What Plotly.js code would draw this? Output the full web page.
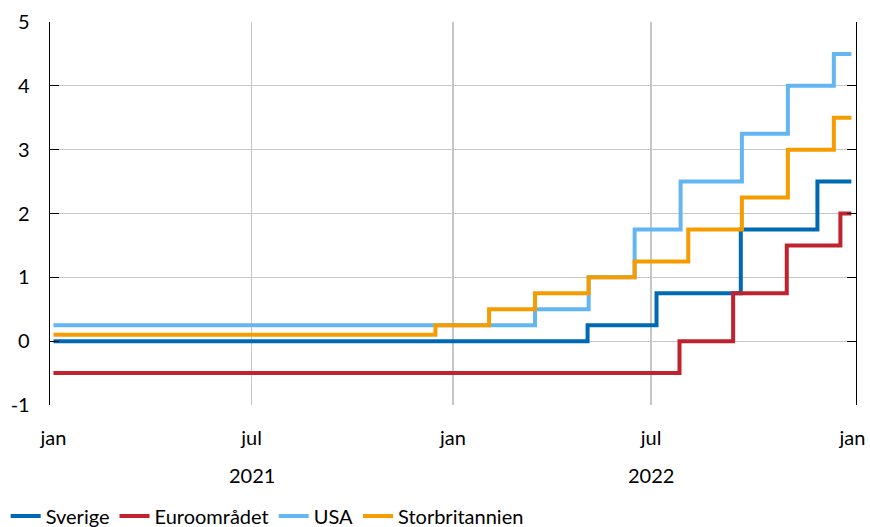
<!DOCTYPE html>
<html>
<head>
<meta charset="utf-8">
<script src="https://cdn.plot.ly/plotly-3.0.1.min.js"></script>
<style>
  html, body { margin: 0; padding: 0; background: #fff; }
  #chart { width: 870px; height: 527px; }
</style>
</head>
<body>
<div id="chart"></div>
<script>
// Policy rates, step changes (date of change -> new level), last point = end of data
const seDates = ['2021-01-01', '2022-05-04', '2022-07-06', '2022-09-21', '2022-11-30', '2022-12-31'];
const seRates = [0, 0.25, 0.75, 1.75, 2.5, 2.5];

const euDates = ['2021-01-01', '2022-07-27', '2022-09-14', '2022-11-02', '2022-12-21', '2022-12-31'];
const euRates = [-0.5, 0, 0.75, 1.5, 2.0, 2.0];

const usDates = ['2021-01-01', '2022-03-17', '2022-05-05', '2022-06-16', '2022-07-28', '2022-09-22', '2022-11-03', '2022-12-15', '2022-12-31'];
const usRates = [0.25, 0.5, 1.0, 1.75, 2.5, 3.25, 4.0, 4.5, 4.5];

const ukDates = ['2021-01-01', '2021-12-16', '2022-02-03', '2022-03-17', '2022-05-05', '2022-06-16', '2022-08-04', '2022-09-22', '2022-11-03', '2022-12-15', '2022-12-31'];
const ukRates = [0.1, 0.25, 0.5, 0.75, 1.0, 1.25, 1.75, 2.25, 3.0, 3.5, 3.5];

const seriesNames = ['Sverige', 'Euroområdet', 'USA', 'Storbritannien'];
const seriesColors = ['#0069b4', '#c0222e', '#63b6f1', '#f59c00'];

// tick labels
const gridTicks = ['2021-07-01', '2022-01-01', '2022-07-01'];
const gridTickText = ['jul', 'jan', 'jul'];
const edgeTicks = ['2021-01-01', '2023-01-01'];
const edgeTickText = ['jan', 'jan'];
const yearLabels = ['2021', '2022'];
const yearPos = ['2021-07-01', '2022-07-01'];
const yTicks = [-1, 0, 1, 2, 3, 4, 5];
const yTickText = ['-1', '0', '1', '2', '3', '4', '5'];

const FONT = 'Lato, "Open Sans", sans-serif';
const FS = 20;

const xs = [seDates, euDates, usDates, ukDates];
const ys = [seRates, euRates, usRates, ukRates];

const traces = seriesNames.map((name, i) => ({
  x: xs[i],
  y: ys[i],
  name: name,
  type: 'scatter',
  mode: 'lines',
  line: { shape: 'hv', width: 4, color: seriesColors[i] },
  hoverinfo: 'skip'
}));

// invisible trace to carry the edge "jan" ticks on the overlaid axis
traces.push({
  x: edgeTicks, y: [null, null], xaxis: 'x2', type: 'scatter', mode: 'lines',
  showlegend: false, hoverinfo: 'skip'
});

const xRange = ['2020-12-28 20:00', '2023-01-04 06:00'];

const layout = {
  width: 870,
  height: 527,
  paper_bgcolor: '#ffffff',
  plot_bgcolor: '#ffffff',
  font: { family: FONT, size: FS, color: '#000000' },
  margin: { l: 50, r: 14, t: 22, b: 122, pad: 0, autoexpand: false },
  showlegend: true,
  legend: {
    orientation: 'h',
    x: -0.055, xanchor: 'left',
    y: -0.239, yanchor: 'top',
    font: { family: FONT, size: FS, color: '#000' },
    itemwidth: 30,
    tracegroupgap: 0
  },
  xaxis: {
    type: 'date',
    range: xRange,
    tickmode: 'array',
    tickvals: gridTicks,
    ticktext: gridTickText,
    showgrid: true,
    gridcolor: '#c6c6c6',
    gridwidth: 1.3,
    zeroline: false,
    showline: false,
    ticks: '',
    ticklabelstandoff: 19,
    tickfont: { family: FONT, size: FS }
  },
  xaxis2: {
    type: 'date',
    overlaying: 'x',
    matches: 'x',
    side: 'bottom',
    range: xRange,
    tickmode: 'array',
    tickvals: edgeTicks,
    ticktext: edgeTickText,
    showgrid: false,
    zeroline: false,
    showline: false,
    ticks: '',
    ticklabelstandoff: 19,
    tickfont: { family: FONT, size: FS }
  },
  yaxis: {
    range: [-1, 5],
    tickmode: 'array',
    tickvals: yTicks,
    ticktext: yTickText,
    showgrid: true,
    gridcolor: '#c6c6c6',
    gridwidth: 1.3,
    zeroline: false,
    showline: true,
    linecolor: '#000',
    linewidth: 1.3,
    mirror: 'ticks',
    ticks: 'inside',
    ticklen: 9,
    tickwidth: 1.3,
    tickcolor: '#000',
    ticklabelstandoff: 15,
    tickfont: { family: FONT, size: FS }
  },
  annotations: yearLabels.map((t, i) => ({
    text: t,
    x: yearPos[i],
    xref: 'x',
    y: 0,
    yref: 'paper',
    yanchor: 'top',
    yshift: -56,
    showarrow: false,
    font: { family: FONT, size: FS, color: '#000' }
  }))
};

Plotly.newPlot('chart', traces, layout, { displayModeBar: false, staticPlot: true });
</script>
</body>
</html>
